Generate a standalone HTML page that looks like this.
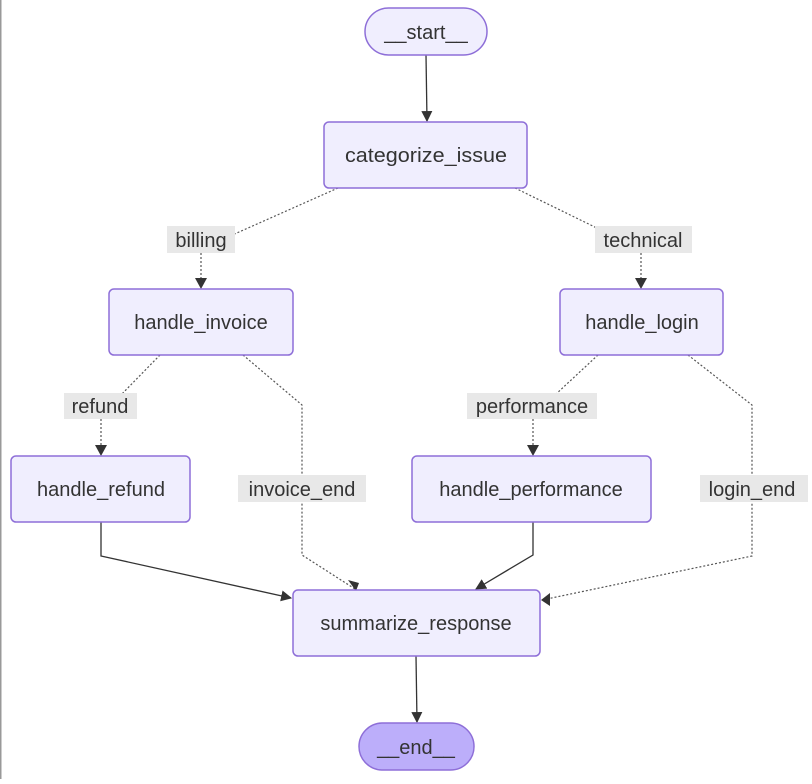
<!DOCTYPE html>
<html><head><meta charset="utf-8"><style>
html,body{margin:0;padding:0;background:#fff;}
svg text{font-family:"Liberation Sans",sans-serif;font-size:20px;fill:#333;}
</style></head><body>
<svg width="812" height="779" viewBox="0 0 812 779" xmlns="http://www.w3.org/2000/svg">
<defs>
<marker id="a" viewBox="0 0 10 10" refX="9" refY="5" markerWidth="11" markerHeight="11" orient="auto-start-reverse" markerUnits="userSpaceOnUse">
<path d="M0,0 L10,5 L0,10 z" fill="#333"/></marker>
</defs>
<rect x="0" y="0" width="1.5" height="779" fill="#999"/>
<g fill="none" stroke="#333" stroke-width="1.3">
<path d="M426,55 L427,121" marker-end="url(#a)"/>
<path d="M101,522 L101,556 L291,598" marker-end="url(#a)"/>
<path d="M533,522 L533,555 L476,589" marker-end="url(#a)"/>
<path d="M416,656 L417,722" marker-end="url(#a)"/>
</g>
<g fill="none" stroke="#555" stroke-width="1.2" stroke-dasharray="2,2">
<path d="M338,188 L230,236 M201,253 L201,288" />
<path d="M515,188 L605,232 M641,253 L641,288"/>
<path d="M160,355 L118,398 M101,419 L101,455"/>
<path d="M243,355 L302,405 L302,555 L355,589"/>
<path d="M598,355 L555,395 M533,419 L533,455"/>
<path d="M688,355 L752,405 L752,556 L542,600"/>
</g>
<g fill="#333">
<path d="M195,278 L207,278 L201,289z"/>
<path d="M635,278 L647,278 L641,289z"/>
<path d="M95,445 L107,445 L101,456z"/>
<path d="M527,445 L539,445 L533,456z"/>
<path d="M348,580 L359,583 L356,591z"/>
<path d="M550,593 L550,606 L541,600z"/>
</g>
<g fill="#e8e8e8">
<rect x="167" y="226" width="68" height="27"/>
<rect x="595" y="226" width="97" height="27"/>
<rect x="64" y="393" width="73" height="26"/>
<rect x="467" y="393" width="130" height="26"/>
<rect x="238" y="475" width="128" height="27"/>
<rect x="700" y="475" width="108" height="27"/>
</g>
<g fill="#f0eefe" stroke="#8e6fd8" stroke-width="1.5">
<rect x="365" y="8" width="122" height="47" rx="23.5"/>
<rect x="324" y="122" width="203" height="66" rx="5"/>
<rect x="109" y="289" width="184" height="66" rx="5"/>
<rect x="560" y="289" width="163" height="66" rx="5"/>
<rect x="11" y="456" width="179" height="66" rx="5"/>
<rect x="412" y="456" width="239" height="66" rx="5"/>
<rect x="293" y="590" width="247" height="66" rx="5"/>
<rect x="359" y="723" width="115" height="47" rx="23.5" fill="#bcaefa"/>
</g>
<g text-anchor="middle">
<text x="426" y="39">__start__</text>
<text x="426" y="162" textLength="162" lengthAdjust="spacingAndGlyphs">categorize_issue</text>
<text x="201" y="247">billing</text>
<text x="643" y="247">technical</text>
<text x="201" y="329">handle_invoice</text>
<text x="642" y="329">handle_login</text>
<text x="100" y="413">refund</text>
<text x="532" y="413">performance</text>
<text x="101" y="496">handle_refund</text>
<text x="302" y="496">invoice_end</text>
<text x="531" y="496">handle_performance</text>
<text x="752" y="496">login_end</text>
<text x="416" y="630">summarize_response</text>
<text x="416" y="754">__end__</text>
</g>
</svg>
</body></html>
